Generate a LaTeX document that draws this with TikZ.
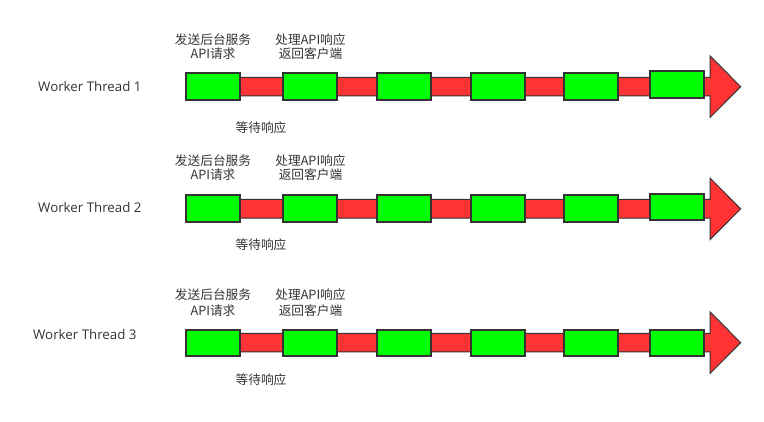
\documentclass[tikz,border=0pt]{standalone}
\usepackage{fontspec}
\setmainfont{Noto Sans CJK SC}
\newfontfamily\latinfont{Open Sans}
\definecolor{gfill}{HTML}{00FF00}
\definecolor{rfill}{HTML}{FF3333}
\definecolor{edge}{HTML}{333333}
\definecolor{txt}{HTML}{333333}
\tikzset{
  gbox/.style={draw=edge,fill=gfill,line width=2pt,minimum width=54pt,minimum height=26.5pt,inner sep=0pt},
  rarrow/.style={draw=edge,fill=rfill,line width=1pt,line join=miter},
  lbl/.style={text=txt,font=\fontsize{12.7}{15}\selectfont,align=center,inner sep=0pt},
  thr/.style={text=txt,font=\latinfont\fontsize{13.3}{15}\selectfont,inner sep=0pt,anchor=west},
}
\newcommand{\threadrow}[7]{%
  % #1 row id, #2 arrow center y, #3 box center y, #4 last box center y, #5 label line1 y, #6 wait label y, #7 spacing
  \draw[rarrow] (190,#2-9.3) -- (710,#2-9.3) -- (710,#2-30.8) -- (740.7,#2) -- (710,#2+30.8) -- (710,#2+9.3) -- (190,#2+9.3) -- cycle;
  \node[gbox] (b#1a) at (212.85,#3) {};
  \node[gbox] (b#1b) at (310.2,#3) {};
  \node[gbox] (b#1c) at (404,#3) {};
  \node[gbox] (b#1d) at (498,#3) {};
  \node[gbox] (b#1e) at (590.85,#3) {};
  \node[gbox] (b#1f) at (676.8,#4) {};
  \node[lbl] (s#1) at (213,#5) {发送后台服务\\[#7]API请求};
  \node[lbl] (p#1) at (310.5,#5) {处理API响应\\[#7]返回客户端};
  \node[lbl] (w#1) at (261,#6) {等待响应};
}
\begin{document}
\begin{tikzpicture}[x=1pt,y=-1pt]
\useasboundingbox (0,0) rectangle (764,422);
\threadrow{1}{86.7}{86.7}{84.7}{46.5}{127.7}{-1pt}
\threadrow{2}{208.8}{208.7}{206.8}{167.5}{244.3}{-1pt}
\threadrow{3}{342.7}{343}{343}{302.5}{380}{1pt}
\node[thr] (t1) at (38,86.7) {Worker Thread 1};
\node[thr] (t2) at (38,208) {Worker Thread 2};
\node[thr] (t3) at (33,335) {Worker Thread 3};
\end{tikzpicture}
\end{document}
